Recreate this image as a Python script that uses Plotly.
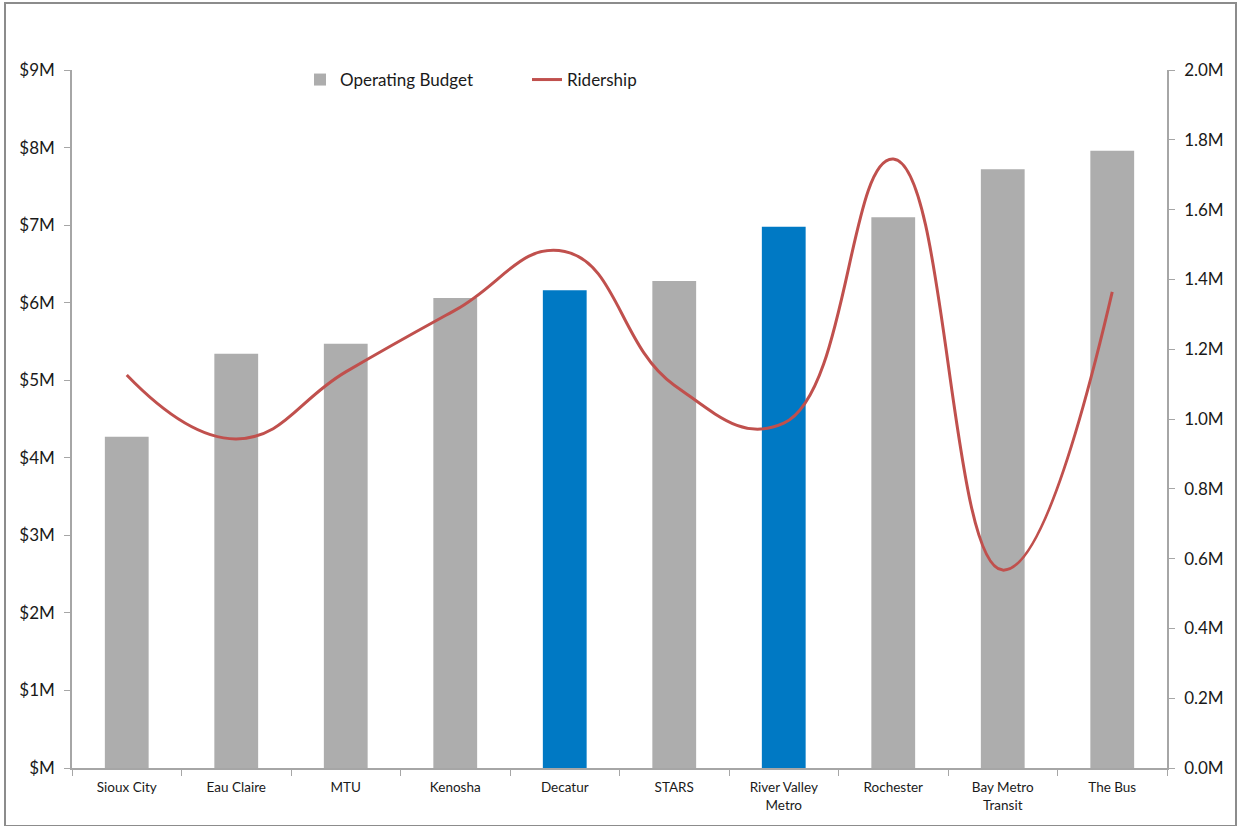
import plotly.graph_objects as go

categories = ["Sioux City", "Eau Claire", "MTU", "Kenosha", "Decatur", "STARS",
              "River Valley<br>Metro", "Rochester", "Bay Metro<br>Transit", "The Bus"]
budget_m = [4.27, 5.34, 5.47, 6.06, 6.16, 6.28, 6.98, 7.10, 7.72, 7.96]
ridership_m = [1.126, 0.943, 1.135, 1.312, 1.480, 1.097, 0.988, 1.745, 0.567, 1.364]
highlight = [False, False, False, False, True, False, True, False, False, False]

left_ticks = [0, 1, 2, 3, 4, 5, 6, 7, 8, 9]
left_labels = ["$M", "$1M", "$2M", "$3M", "$4M", "$5M", "$6M", "$7M", "$8M", "$9M"]
right_ticks = [0.0, 0.2, 0.4, 0.6, 0.8, 1.0, 1.2, 1.4, 1.6, 1.8, 2.0]
right_labels = ["0.0M", "0.2M", "0.4M", "0.6M", "0.8M", "1.0M", "1.2M", "1.4M", "1.6M", "1.8M", "2.0M"]

GRAY = "#ADADAD"
BLUE = "#0079C4"
RED = "#C0504D"
AXIS = "#A6A6A6"
FONT = "Lato, 'Open Sans', sans-serif"

W, H = 1238, 826
ML, MR, MT, MB = 72, 71, 70, 58
pw, ph = W - ML - MR, H - MT - MB

fig = go.Figure()
fig.add_trace(go.Bar(
    x=categories, y=budget_m, name="Operating Budget",
    marker=dict(color=[BLUE if h else GRAY for h in highlight], line=dict(width=0)),
    width=0.4,
))
fig.add_trace(go.Scatter(
    x=categories, y=ridership_m, name="Ridership", yaxis="y2",
    mode="lines", line=dict(color=RED, width=3, shape="spline", smoothing=1.3),
))

fig.update_layout(
    width=W, height=H,
    margin=dict(l=ML, r=MR, t=MT, b=MB),
    paper_bgcolor="white", plot_bgcolor="white",
    font=dict(family=FONT, size=16, color="#1a1a1a"),
    showlegend=True,
    legend=dict(orientation="h", x=(300 - ML) / pw, xanchor="left",
                y=(H - MB - 80) / ph, yanchor="middle",
                font=dict(size=17), bgcolor="rgba(0,0,0,0)", entrywidth=182,
                traceorder="normal"),
    xaxis=dict(
        showline=True, linecolor=AXIS, linewidth=1.5,
        ticks="outside", ticklen=6, tickcolor=AXIS, tickson="boundaries",
        tickfont=dict(size=13.5), ticklabelstandoff=6,
        showgrid=False, fixedrange=True,
    ),
    yaxis=dict(
        range=[0, 9], tickvals=left_ticks, ticktext=left_labels,
        showline=True, linecolor=AXIS, linewidth=1.5,
        ticks="outside", ticklen=6, tickcolor=AXIS, ticklabelstandoff=6,
        showgrid=False, zeroline=False, tickfont=dict(size=17),
    ),
    yaxis2=dict(
        range=[0, 2.0], tickvals=right_ticks, ticktext=right_labels,
        overlaying="y", side="right",
        showline=True, linecolor=AXIS, linewidth=1.5,
        ticks="outside", ticklen=6, tickcolor=AXIS, ticklabelstandoff=6,
        showgrid=False, zeroline=False, tickfont=dict(size=17),
    ),
    shapes=[dict(
        type="rect", xref="paper", yref="paper",
        x0=(5 - ML) / pw, x1=(1236 - ML) / pw,
        y0=(H - MB - 826) / ph, y1=(H - MB - 3) / ph,
        line=dict(color="#8C8C8C", width=2), fillcolor="rgba(0,0,0,0)", layer="below",
    )],
)

fig.write_html("out.html")
